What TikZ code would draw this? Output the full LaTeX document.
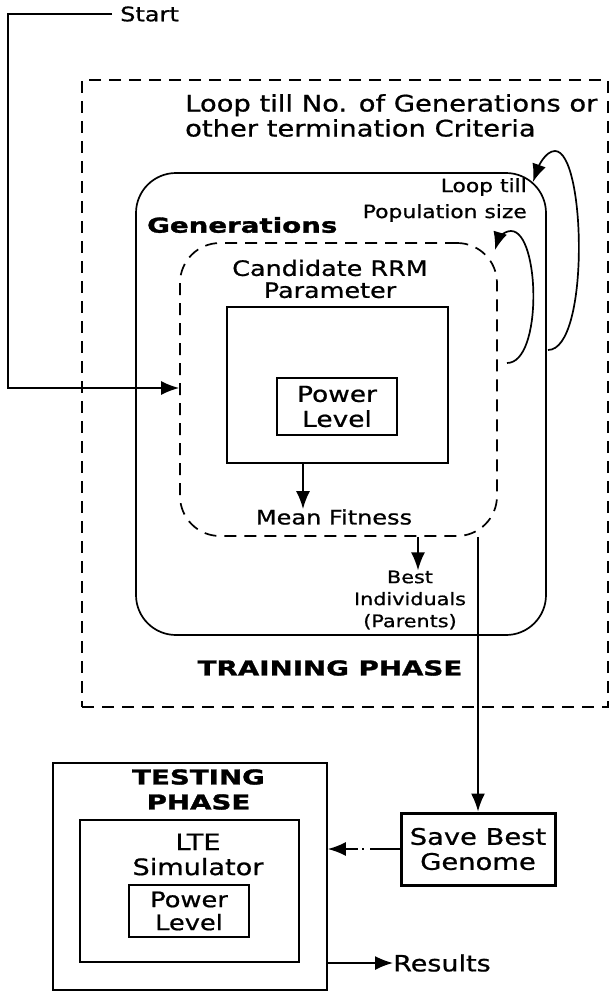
\documentclass[tikz,border=0pt]{standalone}
\usepackage{fontspec}
\usepackage{tikz}
\usetikzlibrary{arrows.meta, positioning, calc}
\newfontfamily\lblfont[FakeStretch=1.2, FakeBold=0.8]{DejaVu Sans}
\newfontfamily\hdfont[FakeStretch=1.35, FakeBold=1.5]{DejaVu Sans}
\newcommand{\fsz}[2]{\fontsize{#1}{#2}\selectfont}

\tikzset{
	lbl/.style={font=\lblfont\fsz{20}{24}, align=center, inner sep=0pt},
	hd/.style={font=\hdfont\bfseries\fsz{20.5}{25}, align=center, inner sep=0pt},
	box/.style={draw, line width=1.7pt, inner sep=0pt},
	dbox/.style={box, dash pattern=on 12pt off 8pt},
	arr/.style={-{Latex[length=18pt,width=14pt]}, line width=1.7pt}
}

\begin{document}
\begin{tikzpicture}[x=1pt, y=-1pt]
	\useasboundingbox (0,0) rectangle (613,994);

	% training phase
	\node [dbox, minimum width=526, minimum height=627] (train) at (345,393.5) {};
	\node [box, rounded corners=40, minimum width=410, minimum height=462] (gen) at (341,404) {};
	\node [dbox, rounded corners=40, minimum width=317, minimum height=293] (cand) at (338.5,389.5) {};
	\node [box, minimum width=221, minimum height=156] (param) at (337.5,385) {};
	\node [box, lbl, font=\lblfont\fsz{22}{25}, minimum width=120, minimum height=57] (pw1) at (337,406.5) {Power\\Level};

	\node [lbl, anchor=west, align=left, font=\lblfont\fsz{22.8}{25}] (looptxt) at (185,115.5) {Loop till No. of Generations or\\other termination Criteria};
	\node [lbl, anchor=east, align=right, font=\lblfont\fsz{18.2}{26}] (popul) at (527,200) {Loop till\\Population size};
	\node [hd, anchor=west] (gentxt) at (147,225) {Generations};
	\node [lbl, font=\lblfont\fsz{21.2}{22}] (candtxt) at (330,279) {Candidate RRM\\Parameter};
	\node [lbl] (mean) at (334,517) {Mean Fitness};
	\node [lbl, font=\lblfont\fsz{17.3}{22}] (best) at (410,600) {Best\\Individuals\\(Parents)};
	\node [hd] (traintxt) at (330,668) {TRAINING PHASE};

	% testing phase
	\node [box, minimum width=274, minimum height=227] (test) at (190,876.5) {};
	\node [hd] (testtxt) at (198.5,789.5) {TESTING\\PHASE};
	\node [box, minimum width=219, minimum height=142] (lte) at (189.5,891) {};
	\node [lbl, font=\lblfont\fsz{22.6}{25}] (ltetxt) at (198,854.5) {LTE\\Simulator};
	\node [box, lbl, font=\lblfont\fsz{21.4}{23}, minimum width=120, minimum height=52] (pw2) at (189,911) {Power\\Level};
	\node [box, lbl, font=\lblfont\fsz{22.8}{25}, line width=3pt, minimum width=154, minimum height=72] (save) at (478,849) {Save Best\\Genome};
	\node [lbl, anchor=west, font=\lblfont\fsz{22.5}{25}] (results) at (393,963) {Results};

	% start line
	\node [lbl, anchor=west, inner xsep=8pt] (start) at (112,14) {Start};
	\coordinate (c1) at (8,14);
	\coordinate (c2) at (8,388);
	\draw [arr] (start.west) -- (c1) -- (c2) -- (c2 -| cand.west);

	% arrows
	\draw [arr] (param.south -| 303,0) -- (mean.north -| 303,0);
	\draw [arr] (cand.south -| 418,0) -- (best.north -| 418,0);
	\draw [arr] (cand.south -| save.north) -- (save.north);
	\draw [arr, dash pattern=on 30pt off 6pt on 2pt off 4pt] (save.west) -- (save.west -| test.east);
	\draw [arr] (test.east |- results.west) -- (results.west);

	% loops
	\coordinate (o1) at (548,350);
	\coordinate (o2) at (533,182);
	\draw [arr] (o1) .. controls (590,350) and (586,151) .. (555,151) .. controls (545,151) and (538,168) .. (o2);
	\coordinate (i1) at (507,363);
	\coordinate (i2) at (495,250);
	\draw [arr] (i1) .. controls (543,363) and (540,231) .. (511,231) .. controls (503,231) and (498,240) .. (i2);
\end{tikzpicture}
\end{document}
